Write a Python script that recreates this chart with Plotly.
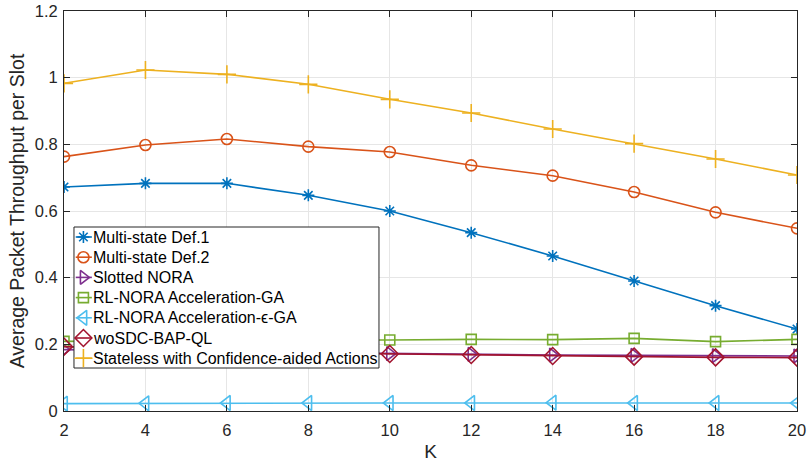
import plotly.graph_objects as go

K = [2, 4, 6, 8, 10, 12, 14, 16, 18, 20]
names = ["Multi-state Def.1", "Multi-state Def.2", "Slotted NORA", "RL-NORA Acceleration-GA",
         "RL-NORA Acceleration-ϵ-GA", "woSDC-BAP-QL", "Stateless with Confidence-aided Actions"]
multi1 = [0.672, 0.683, 0.683, 0.647, 0.600, 0.535, 0.465, 0.390, 0.316, 0.246]
multi2 = [0.763, 0.798, 0.816, 0.793, 0.777, 0.737, 0.706, 0.657, 0.596, 0.548]
slotted = [0.184, 0.182, 0.178, 0.175, 0.172, 0.170, 0.168, 0.167, 0.166, 0.165]
rlga = [0.209, 0.211, 0.212, 0.213, 0.213, 0.215, 0.214, 0.218, 0.208, 0.215]
rleps = [0.022, 0.023, 0.024, 0.024, 0.024, 0.024, 0.025, 0.024, 0.024, 0.024]
wosdc = [0.193, 0.186, 0.178, 0.174, 0.171, 0.168, 0.165, 0.163, 0.161, 0.160]
stateless = [0.983, 1.023, 1.010, 0.980, 0.935, 0.894, 0.846, 0.802, 0.756, 0.708]

series = [multi1, multi2, slotted, rlga, rleps, wosdc, stateless]
colors = ["#0072BD", "#D95319", "#7E2F8E", "#77AC30", "#4DBEEE", "#A2142F", "#EDB120"]
symbols = ["asterisk-open", "circle-open", "triangle-right-open", "square-open",
           "triangle-left-open", "diamond-open", "cross-thin-open"]
sizes = [10, 11, 12, 10, 13, 13, 13]
LW = 1.6
FONT = "Liberation Sans, Arial, Helvetica"

fig = go.Figure()
for n, y, c, s, sz in zip(names, series, colors, symbols, sizes):
    fig.add_trace(go.Scatter(x=K, y=y, name=n, mode="lines+markers", showlegend=False,
                             line=dict(color=c, width=LW),
                             marker=dict(symbol=s, size=sz, color=c,
                                         line=dict(color=c, width=LW))))

# ---- custom legend (MATLAB style) drawn on an invisible overlay axis in plot-fraction units
LEG_L, LEG_R, LEG_T, LEG_B = 0.0136, 0.4297, 0.46, 0.1075
ROW0, ROWSTEP = 0.435, 0.0505
ICON_L, ICON_M, ICON_R, TEXT_X = 0.016, 0.0265, 0.038, 0.0375

fig.add_trace(go.Scatter(x=[LEG_L, LEG_R, LEG_R, LEG_L, LEG_L], y=[LEG_T, LEG_T, LEG_B, LEG_B, LEG_T],
                         xaxis="x2", yaxis="y2", mode="lines", fill="toself", fillcolor="white",
                         line=dict(color="#262626", width=1), showlegend=False, hoverinfo="skip"))
for i, (n, c, s, sz) in enumerate(zip(names, colors, symbols, sizes)):
    yy = ROW0 - i * ROWSTEP
    fig.add_trace(go.Scatter(x=[ICON_L, ICON_R], y=[yy, yy], xaxis="x2", yaxis="y2", mode="lines",
                             line=dict(color=c, width=LW), showlegend=False, hoverinfo="skip"))
    fig.add_trace(go.Scatter(x=[ICON_M], y=[yy], xaxis="x2", yaxis="y2", mode="markers",
                             marker=dict(symbol=s, size=sz, color=c, line=dict(color=c, width=LW)),
                             showlegend=False, hoverinfo="skip", cliponaxis=False))
    fig.add_annotation(x=TEXT_X, y=yy, xref="x2", yref="y2", text=n, showarrow=False,
                       xanchor="left", yanchor="middle",
                       font=dict(family=FONT, size=16, color="black"))

axis_common = dict(showline=True, linecolor="#262626", linewidth=1, mirror="ticks",
                   ticks="inside", ticklen=6, tickcolor="#262626", automargin=False,
                   showgrid=True, gridcolor="#E6E6E6", gridwidth=1, zeroline=False,
                   tickfont=dict(family=FONT, size=16.5, color="#262626"))
fig.update_xaxes(range=[2, 20], tickvals=K, ticktext=[str(k) for k in K], ticklabelstandoff=4,
                 title=dict(text="K", font=dict(family=FONT, size=19, color="#262626"), standoff=6),
                 **axis_common)
fig.update_yaxes(range=[0, 1.2], tickvals=[0, 0.2, 0.4, 0.6, 0.8, 1.0, 1.2],
                 ticktext=["0", "0.2", "0.4", "0.6", "0.8", "1", "1.2"], ticklabelstandoff=2,
                 title=dict(text="Average Packet Throughput per Slot",
                            font=dict(family=FONT, size=19.5, color="#262626"), standoff=4),
                 **axis_common)
fig.update_layout(
    xaxis2=dict(overlaying="x", range=[0, 1], visible=False, anchor="y2"),
    yaxis2=dict(overlaying="y", range=[0, 1], visible=False, anchor="x2"),
    width=811, height=467, margin=dict(l=64, r=14, t=11, b=56),
    plot_bgcolor="white", paper_bgcolor="white", showlegend=False, hovermode=False)

fig.write_html("out.html", config={"displayModeBar": False, "staticPlot": True},
               post_script="document.body.style.margin='0';document.body.style.overflow='hidden';")
